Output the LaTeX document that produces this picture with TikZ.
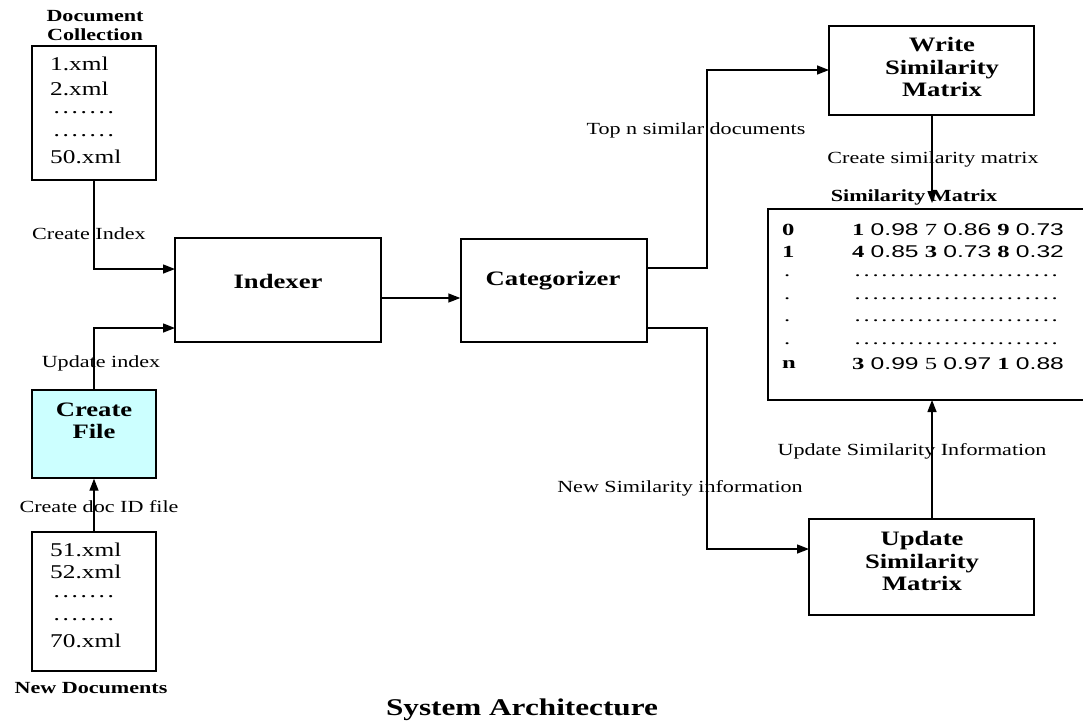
\documentclass[tikz,border=0pt]{standalone}
\usepackage{fontspec}
\setmainfont{Liberation Serif}[FakeStretch=1.3]
\setsansfont{Liberation Sans}[FakeStretch=1.3]
\newfontfamily\matserif{Liberation Serif}[FakeStretch=1.45]
\newfontfamily\matsans{Liberation Sans}[FakeStretch=1.45]
\usetikzlibrary{arrows.meta}
\definecolor{cfill}{HTML}{CCFFFF}
\newcommand\mydots[2]{\makebox[#1][l]{\leaders\hbox to #2{\hss.\hss}\hskip#1}}
\tikzset{
 box/.style={draw, line width=1.4pt, inner sep=0pt},
 lbl/.style={inner sep=0pt, font=\fontsize{17}{20}\selectfont},
 ttl/.style={inner sep=0pt, font=\fontsize{17}{19}\selectfont\bfseries, align=center},
 boxtxt/.style={inner sep=0pt, font=\fontsize{20.5}{22.5}\selectfont\bfseries, align=center},
 item/.style={inner sep=0pt, anchor=west, font=\fontsize{19.5}{22}\selectfont},
 mat/.style={inner sep=0pt, anchor=west, font=\fontsize{17}{20}\matserif},
 arr/.style={line width=1.4pt, -{Triangle[length=12pt,width=9pt]}},
 ln/.style={line width=1.4pt},
}
\begin{document}
\begin{tikzpicture}[x=1pt,y=-1pt]
\useasboundingbox (0,0) rectangle (1083,724);
\clip (0,0) rectangle (1083,724);

% Document collection
\node[ttl] (dctitle) at (95,26) {Document\\Collection};
\node[box, minimum width=124pt, minimum height=134pt] (dc) at (94,113) {};
\node[item] (d1) at (50,64) {1.xml};
\node[item] (d2) at (50,89) {2.xml};
\node[item] (d3) at (52,113) {\mydots{63pt}{9pt}};
\node[item] (d4) at (52,136) {\mydots{63pt}{9pt}};
\node[item] (d5) at (50,157) {50.xml};

% Create file
\node[box, fill=cfill, minimum width=124pt, minimum height=88pt] (cf) at (94,434) {};
\node[boxtxt] (cftxt) at (94,421) {Create\\File};

% New documents
\node[box, minimum width=124pt, minimum height=139pt] (nd) at (94,601.5) {};
\node[item] (n1) at (50,550) {51.xml};
\node[item] (n2) at (50,572) {52.xml};
\node[item] (n3) at (52,597) {\mydots{63pt}{9pt}};
\node[item] (n4) at (52,620) {\mydots{63pt}{9pt}};
\node[item] (n5) at (50,641) {70.xml};
\node[ttl] (ndtitle) at (91,688) {New Documents};

% Indexer, Categorizer
\node[box, minimum width=206pt, minimum height=104pt] (idx) at (278,290) {};
\node[boxtxt] (idxtxt) at (278,281) {Indexer};
\node[box, minimum width=186pt, minimum height=103pt] (cat) at (554,290.5) {};
\node[boxtxt] (cattxt) at (553,281) {Categorizer};

% Write similarity matrix
\node[box, minimum width=205pt, minimum height=89pt] (wsm) at (931.5,70.5) {};
\node[boxtxt] (wsmtxt) at (942,67) {Write\\Similarity\\Matrix};

% Similarity matrix
\node[ttl] (smtitle) at (914,197) {Similarity Matrix};
\node[box, minimum width=330pt, minimum height=191pt] (sm) at (933,304.5) {};
\node[mat] (r0a) at (782,230) {\bfseries 0};
\node[mat] (r0b) at (852,230) {\bfseries 1 {\mdseries\matsans 0.98} \mdseries 7 {\matsans 0.86} \bfseries 9 {\mdseries\matsans 0.73}};
\node[mat] (r1a) at (782,252) {\bfseries 1};
\node[mat] (r1b) at (852,252) {\bfseries 4 {\mdseries\matsans 0.85} 3 {\mdseries\matsans 0.73} 8 {\mdseries\matsans 0.32}};
\node[mat] (r2a) at (784,276) {.};
\node[mat] (r2b) at (853,276) {\mydots{215pt}{8.96pt}};
\node[mat] (r3a) at (784,299) {.};
\node[mat] (r3b) at (853,299) {\mydots{215pt}{8.96pt}};
\node[mat] (r4a) at (784,321) {.};
\node[mat] (r4b) at (853,321) {\mydots{215pt}{8.96pt}};
\node[mat] (r5a) at (784,344) {.};
\node[mat] (r5b) at (853,344) {\mydots{215pt}{8.96pt}};
\node[mat] (rna) at (782,364) {\bfseries n};
\node[mat] (rnb) at (852,364) {\bfseries 3 {\mdseries\matsans 0.99} \mdseries 5 {\matsans 0.97} \bfseries 1 {\mdseries\matsans 0.88}};

% Update similarity matrix
\node[box, minimum width=225pt, minimum height=96pt] (usm) at (921.5,567) {};
\node[boxtxt] (usmtxt) at (922,561) {Update\\Similarity\\Matrix};

% connector coordinates
\coordinate (in1) at (175,269);
\coordinate (in2) at (175,328);
\coordinate (cout1) at (647,268);
\coordinate (cout2) at (647,328);
\coordinate (bend1) at (707,268);
\coordinate (bend2) at (707,328);
\coordinate (wsmin) at (829,70);
\coordinate (usmin) at (809,549);
\coordinate (wsmout) at (932,115);
\coordinate (smin) at (932,203);
\coordinate (usmout) at (932,519);
\coordinate (smout) at (932,400);

% connectors
\draw[arr] (dc.south) |- (in1);
\draw[arr] (cf.north) |- (in2);
\draw[arr] (nd.north) -- (cf.south);
\draw[arr] (idx.east |- 0,298) -- (cat.west |- 0,298);
\draw[arr] (cout1) -- (bend1) |- (wsmin);
\draw[arr] (cout2) -- (bend2) |- (usmin);
\draw[arr] (wsmout) -- (smin);
\draw[arr] (usmout) -- (smout);

% labels
\node[lbl] (l1) at (89,234) {Create Index};
\node[lbl] (l2) at (101,363) {Update index};
\node[lbl] (l3) at (99,507) {Create doc ID file};
\node[lbl] (l4) at (696,130) {Top n similar documents};
\node[lbl] (l5) at (933,159) {Create similarity matrix};
\node[lbl] (l6) at (912,451) {Update Similarity Information};
\node[lbl] (l7) at (680,488) {New Similarity information};

\node[inner sep=0pt, font=\fontsize{24}{26}\selectfont\bfseries] (sys) at (522,710) {System Architecture};
\end{tikzpicture}
\end{document}
